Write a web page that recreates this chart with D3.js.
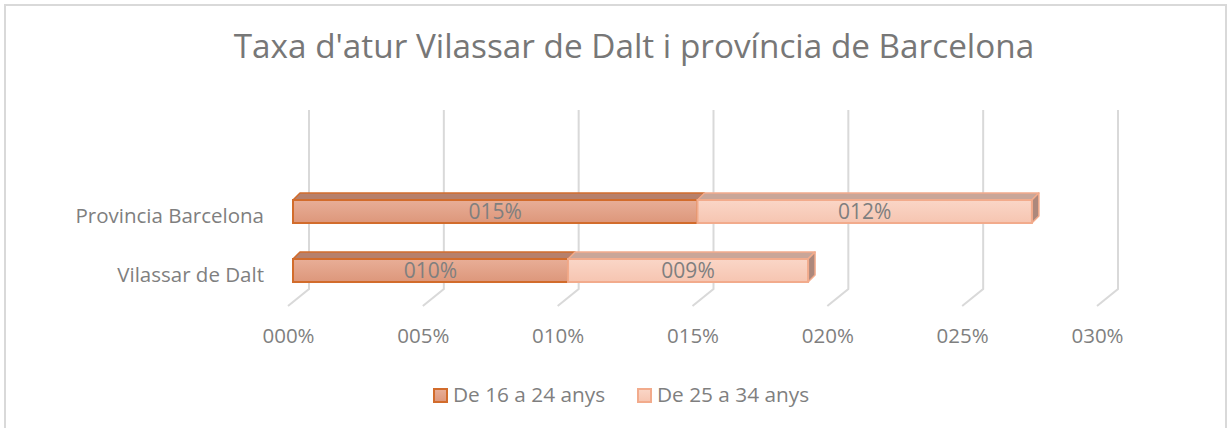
<!DOCTYPE html>
<html lang="ca">
<head>
  <meta charset="UTF-8">
  <title>Taxa d'atur Vilassar de Dalt i província de Barcelona</title>
  <script src="https://d3js.org/d3.v7.min.js"></script>
  <style>
    body { margin: 0; padding: 0; background: #fff; overflow: hidden; }
    text { font-family: "Open Sans", sans-serif; fill: #7f7f7f; }
  </style>
</head>
<body>
  <svg id="chart" width="1229" height="428"></svg>

  <script>
    // Data
    const categories = ["Provincia Barcelona", "Vilassar de Dalt"];
    const seriesNames = ["De 16 a 24 anys", "De 25 a 34 anys"];
    const young = [0.150, 0.102];   // De 16 a 24 anys
    const adult = [0.124, 0.089];   // De 25 a 34 anys
    const ticks = [0, 0.05, 0.10, 0.15, 0.20, 0.25, 0.30];

    const fmt = v => String(Math.round(v * 100)).padStart(3, "0") + "%";

    const svg = d3.select("#chart");

    // chart frame
    svg.append("rect")
      .attr("x", 5).attr("y", 5)
      .attr("width", 1221).attr("height", 440)
      .attr("fill", "none")
      .attr("stroke", "#d9d9d9")
      .attr("stroke-width", 2);

    // title
    svg.append("text")
      .attr("x", 634).attr("y", 58)
      .attr("text-anchor", "middle")
      .style("font-size", "33.3px")
      .style("fill", "#777")
      .text("Taxa d'atur Vilassar de Dalt i província de Barcelona");

    // 3D geometry (pixels)
    const backX = 309, floorX = 288, barX = 293;
    const wallTop = 110, wallBottom = 289, floorY = 306;
    const depth = 7;

    const x = d3.scaleLinear().domain([0, 0.30]).range([0, 809]);
    const y = d3.scaleBand().domain(categories).range([164, 318]).padding(0.61);

    // gridlines: back wall + floor diagonal
    const grid = svg.append("g");
    grid.selectAll("path")
      .data(ticks)
      .join("path")
      .attr("d", t => `M${backX + x(t)},${wallTop}V${wallBottom}L${floorX + x(t)},${floorY}`)
      .attr("fill", "none")
      .attr("stroke", "#d9d9d9")
      .attr("stroke-width", 2);

    // axis labels
    const axis = svg.append("g")
      .attr("transform", `translate(${floorX},331)`)
      .call(d3.axisBottom(x).tickValues(ticks).tickFormat(fmt).tickSize(0).tickPadding(0));
    axis.select(".domain").remove();
    axis.selectAll("text")
      .attr("dy", 0).attr("y", 12)
      .style("font-size", "20.5px")
      .style("fill", "#7f7f7f")
      .attr("font-family", null);

    // category labels
    svg.append("g").selectAll("text")
      .data(categories)
      .join("text")
      .attr("x", 264)
      .attr("y", d => y(d) + y.bandwidth() / 2 + 11.5)
      .attr("text-anchor", "end")
      .style("font-size", "20.5px")
      .text(d => d);

    // gradients
    const defs = svg.append("defs");
    const styles = [
      { top: "#e8ae97", bottom: "#dd977b", stroke: "#d26c2c", roof: "#b6806c", side: "#a77a6b" },
      { top: "#fad6c7", bottom: "#f6c5b1", stroke: "#f2ab8c", roof: "#c9a699", side: "#ad887c" }
    ];
    styles.forEach((s, i) => {
      const g = defs.append("linearGradient")
        .attr("id", "grad" + i)
        .attr("x1", 0).attr("y1", 0).attr("x2", 0).attr("y2", 1);
      g.append("stop").attr("offset", "0%").attr("stop-color", s.top);
      g.append("stop").attr("offset", "100%").attr("stop-color", s.bottom);
    });

    // build stacked segments
    const segments = [];
    categories.forEach((c, i) => {
      segments.push({ cat: c, s: 0, x0: 0, x1: young[i], v: young[i] });
      segments.push({ cat: c, s: 1, x0: young[i], x1: young[i] + adult[i], v: adult[i] });
    });

    const bars = svg.append("g");
    const h = y.bandwidth();

    segments.forEach(d => {
      const st = styles[d.s];
      const X0 = barX + x(d.x0), X1 = barX + x(d.x1), Y = y(d.cat);
      const g = bars.append("g");
      // roof
      g.append("path")
        .attr("d", `M${X0},${Y}L${X0 + depth},${Y - depth}L${X1 + depth},${Y - depth}L${X1},${Y}Z`)
        .attr("fill", st.roof)
        .attr("stroke", st.stroke).attr("stroke-width", 1.5).attr("stroke-linejoin", "round");
      // side (end of the stack only)
      if (d.s === 1) {
        g.append("path")
          .attr("d", `M${X1},${Y}L${X1 + depth},${Y - depth}L${X1 + depth},${Y + h - depth}L${X1},${Y + h}Z`)
          .attr("fill", st.side)
          .attr("stroke", st.stroke).attr("stroke-width", 1.5).attr("stroke-linejoin", "round");
      }
      // front
      g.append("rect")
        .attr("x", X0).attr("y", Y)
        .attr("width", X1 - X0).attr("height", h)
        .attr("fill", `url(#grad${d.s})`)
        .attr("stroke", st.stroke).attr("stroke-width", 2);
      // label
      g.append("text")
        .attr("x", (X0 + X1) / 2)
        .attr("y", Y + h / 2 + 7.5)
        .attr("text-anchor", "middle")
        .style("font-size", "21px")
        .text(fmt(d.v));
    });

    // legend
    const legendX = [433, 637];
    const legend = svg.append("g").selectAll("g")
      .data(seriesNames)
      .join("g")
      .attr("transform", (d, i) => `translate(${legendX[i]},388)`);
    legend.append("rect")
      .attr("x", 1).attr("y", 1)
      .attr("width", 13).attr("height", 13)
      .attr("fill", (d, i) => `url(#grad${i})`)
      .attr("stroke", (d, i) => styles[i].stroke)
      .attr("stroke-width", 2);
    legend.append("text")
      .attr("x", 20).attr("y", 14)
      .style("font-size", "20.8px")
      .text(d => d);
  </script>
</body>
</html>
